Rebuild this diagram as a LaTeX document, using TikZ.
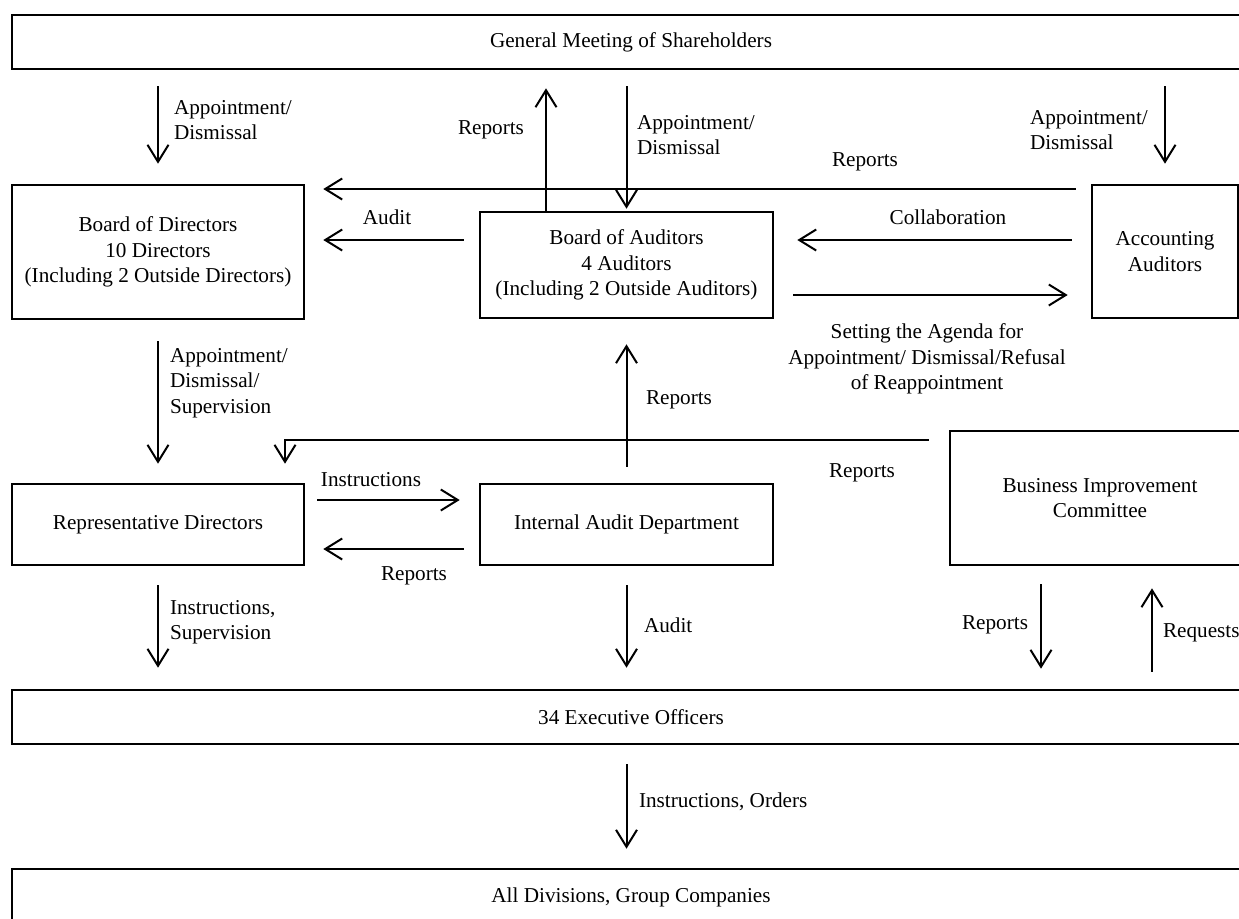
\documentclass[tikz,border=0pt]{standalone}
\usepackage{fontspec}
\setmainfont{Liberation Serif}
\usetikzlibrary{arrows.meta,positioning}

\begin{document}
\begin{tikzpicture}[x=0.5pt,y=-0.5pt,>={Straight Barb[length=8.5pt,width=10.5pt]},
    line width=1pt, font=\fontsize{10.6}{12.7}\selectfont,
    orgbox/.style={draw, line width=1.3pt, align=center, inner sep=2pt},
    lbl/.style={align=left, anchor=west, inner sep=0pt},
    lblr/.style={align=right, anchor=east, inner sep=0pt},
    lblc/.style={align=center, inner sep=0pt}]
    \useasboundingbox (0,0) rectangle (1239,918);

    % boxes
    \node[orgbox, minimum width=619pt, minimum height=27pt] (gms) at (631,42) {General Meeting of Shareholders};
    \node[orgbox, minimum width=146pt, minimum height=67pt] (bod) at (158,252) {Board of Directors\\10 Directors\\(Including 2 Outside Directors)};
    \node[orgbox, minimum width=146.5pt, minimum height=53pt] (boa) at (626.5,265) {Board of Auditors\\4 Auditors\\(Including 2 Outside Auditors)};
    \node[orgbox, minimum width=73pt, minimum height=66.5pt] (acc) at (1165,251.5) {Accounting\\Auditors};
    \node[orgbox, minimum width=146pt, minimum height=40.5pt] (rep) at (158,524.5) {Representative Directors};
    \node[orgbox, minimum width=146.5pt, minimum height=40.5pt] (iad) at (626.5,524.5) {Internal Audit Department};
    \node[orgbox, minimum width=150pt, minimum height=67pt] (bic) at (1100,498) {Business Improvement\\Committee};
    \node[orgbox, minimum width=619pt, minimum height=27pt] (exe) at (631,717) {34 Executive Officers};
    \node[orgbox, minimum width=619pt, minimum height=28pt] (div) at (631,897) {All Divisions, Group Companies};

    % rows and columns of the free arrows
    \coordinate (colRep) at (546,0);
    \coordinate (colBic) at (1041,0);
    \coordinate (colReq) at (1152,0);
    \coordinate (rowRep) at (0,189);
    \coordinate (rowAud) at (0,240);
    \coordinate (rowSet) at (0,295);
    \coordinate (rowIns) at (0,500);
    \coordinate (rowBack) at (0,549);
    \coordinate (bend) at (285,440);

    % arrows
    \draw[->, shorten <=8pt, shorten >=10pt] (gms.south -| bod.north) -- (bod.north);
    \draw[->, shorten >=9pt] (colRep |- boa.north) -- (colRep |- gms.south);
    \draw[->, shorten <=8pt, shorten >=1pt] (gms.south -| boa.north) -- (boa.north);
    \draw[->, shorten <=8pt, shorten >=10pt] (gms.south -| acc.north) -- (acc.north);
    \draw[->, shorten <=7.5pt, shorten >=9pt] (acc.west |- rowRep) -- (bod.east |- rowRep);
    \draw[->, shorten <=7.5pt, shorten >=9pt] (boa.west |- rowAud) -- (bod.east |- rowAud);
    \draw[->, shorten <=9.5pt, shorten >=11.5pt] (acc.west |- rowAud) -- (boa.east |- rowAud);
    \draw[->, shorten <=9.5pt, shorten >=11.5pt] (boa.east |- rowSet) -- (acc.west |- rowSet);
    \draw[->, shorten <=10.5pt, shorten >=9.5pt] (bod.south) -- (rep.north);
    \draw[->, shorten <=8pt, shorten >=12.5pt] (iad.north) -- (boa.south);
    \draw[->, shorten <=10pt, shorten >=9.5pt] (bic.west |- bend) -- (bend) -- (bend |- rep.north);
    \draw[->, shorten <=6pt, shorten >=9.5pt] (rep.east |- rowIns) -- (iad.west |- rowIns);
    \draw[->, shorten <=7.5pt, shorten >=9pt] (iad.west |- rowBack) -- (rep.east |- rowBack);
    \draw[->, shorten <=9.5pt, shorten >=10.5pt] (rep.south) -- (exe.north -| rep.south);
    \draw[->, shorten <=9.5pt, shorten >=10.5pt] (iad.south) -- (exe.north -| iad.south);
    \draw[->, shorten <=9pt, shorten >=10pt] (colBic |- bic.south) -- (colBic |- exe.north);
    \draw[->, shorten <=8.5pt, shorten >=11pt] (colReq |- exe.north) -- (colReq |- bic.south);
    \draw[->, shorten <=9.5pt, shorten >=9.5pt] (exe.south -| iad.south) -- (div.north -| iad.south);

    % labels
    \node[lbl] (lAppBod) at (173,120) {Appointment/\\Dismissal};
    \node[lblc] (lRepGms) at (491,130) {Reports};
    \node[lbl] (lAppBoa) at (636,135) {Appointment/\\Dismissal};
    \node[lbl] (lAppAcc) at (1029,130) {Appointment/\\Dismissal};
    \node[lblc] (lRepBod) at (865,162) {Reports};
    \node[lblc] (lAudBod) at (387,217) {Audit};
    \node[lblc] (lCollab) at (948,217) {Collaboration};
    \node[lblc] (lAgenda) at (927,359) {Setting the Agenda for\\Appointment/ Dismissal/Refusal\\of Reappointment};
    \node[lbl] (lAppRep) at (169,383) {Appointment/\\Dismissal/\\Supervision};
    \node[lbl] (lRepBoa) at (645,400) {Reports};
    \node[lblc] (lRepBic) at (862,473) {Reports};
    \node[lblc] (lIns) at (371,480) {Instructions};
    \node[lblc] (lRepIad) at (414,576) {Reports};
    \node[lbl] (lInsExe) at (169,622) {Instructions,\\Supervision};
    \node[lbl] (lAudExe) at (643,625) {Audit};
    \node[lblr] (lRepExe) at (1029,625) {Reports};
    \node[lbl] (lReq) at (1162,633) {Requests};
    \node[lbl] (lOrd) at (638,802) {Instructions, Orders};
\end{tikzpicture}
\end{document}
